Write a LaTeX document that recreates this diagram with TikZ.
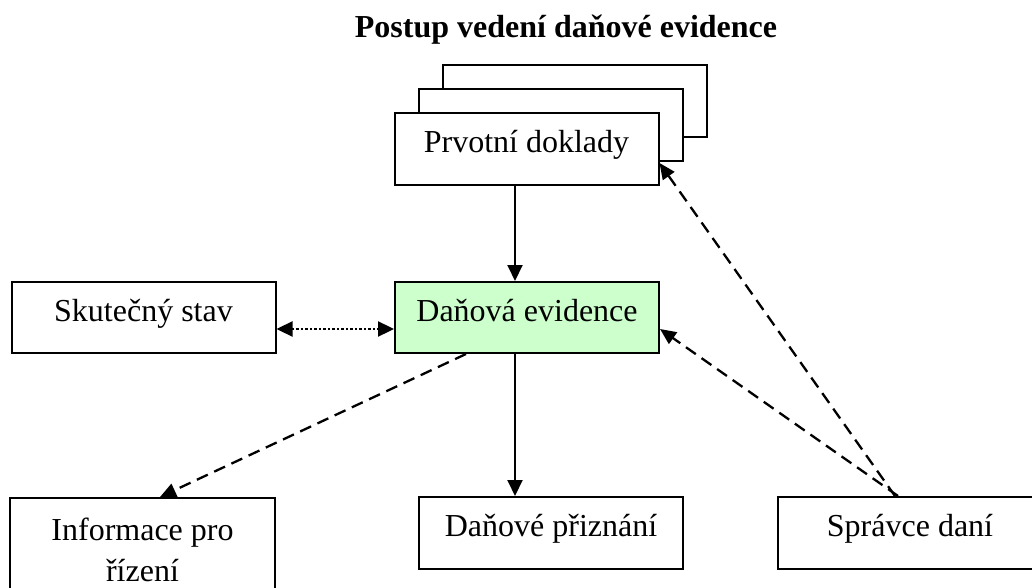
\documentclass[tikz,border=0pt]{standalone}
\usepackage{fontspec}
\setmainfont{Liberation Serif}
\usetikzlibrary{arrows.meta}
\newcommand{\mainsz}{\fontsize{32}{41}\selectfont}
\definecolor{boxgreen}{HTML}{CCFFCC}
\tikzset{
  box/.style={draw, line width=2pt, fill=white, minimum width=264pt, minimum height=71pt,
    inner sep=0pt, text height=21pt, text depth=14pt, font=\mainsz},
  plain/.style={draw, line width=2pt, fill=white, minimum width=264pt, minimum height=72pt, inner sep=0pt},
  solidarrow/.style={line width=2pt, -{Triangle[length=16pt,width=15pt]}},
  dashedarrow/.style={line width=2.3pt, dash pattern=on 12pt off 7pt, -{Triangle[length=16pt,width=14pt]}},
  dottedarrow/.style={line width=2.3pt, dash pattern=on 2.5pt off 2pt, {Triangle[length=16pt,width=15pt]}-{Triangle[length=16pt,width=15pt]}},
}
\begin{document}
\begin{tikzpicture}[x=1pt,y=-1pt]
\path[use as bounding box, clip] (0,0) rectangle (1032,588);
\fill[white] (0,0) rectangle (1032,588);
% title
\node[font=\bfseries\mainsz, anchor=base, inner sep=0pt] (title) at (566,38) {Postup vedení daňové evidence};
% stacked documents
\node[plain] (pd3) at (575,101) {};
\node[plain] (pd2) at (550.5,125) {};
\node[box, minimum height=72pt] (pd) at (526.5,149) {Prvotní doklady};
% middle row
\node[box, fill=boxgreen] (de) at (527,317.5) {Daňová evidence};
\node[box] (ss) at (143.5,317.5) {Skutečný stav};
% bottom row
\node[draw, line width=2pt, minimum width=265pt, minimum height=104pt, inner ysep=18pt, inner xsep=0pt,
  anchor=north, align=center, font=\mainsz] (info) at (142.5,497) {Informace pro\\řízení};
\node[box, minimum height=72pt] (dp) at (551,533) {Daňové přiznání};
\node[box, minimum height=72pt] (sd) at (910,533) {Správce daní};
% connectors
\draw[solidarrow] ([xshift=-11.5pt]pd.south) -- ([xshift=-11.5pt]pd.south |- de.north);
\draw[solidarrow] ([xshift=-12pt]de.south) -- ([xshift=-12pt]de.south |- dp.north);
\draw[dottedarrow] ([yshift=-11.5pt]ss.east) -- ([yshift=-11.5pt]de.west);
\draw[dashedarrow] ([xshift=72pt]de.south west) -- ([xshift=17.5pt]info.north);
\draw[dashedarrow] ([xshift=-12pt]sd.north) -- ([yshift=-11.5pt]de.east);
\draw[dashedarrow] ([xshift=-15pt]sd.north) -- ([yshift=-14pt]pd.east);
\end{tikzpicture}
\end{document}
